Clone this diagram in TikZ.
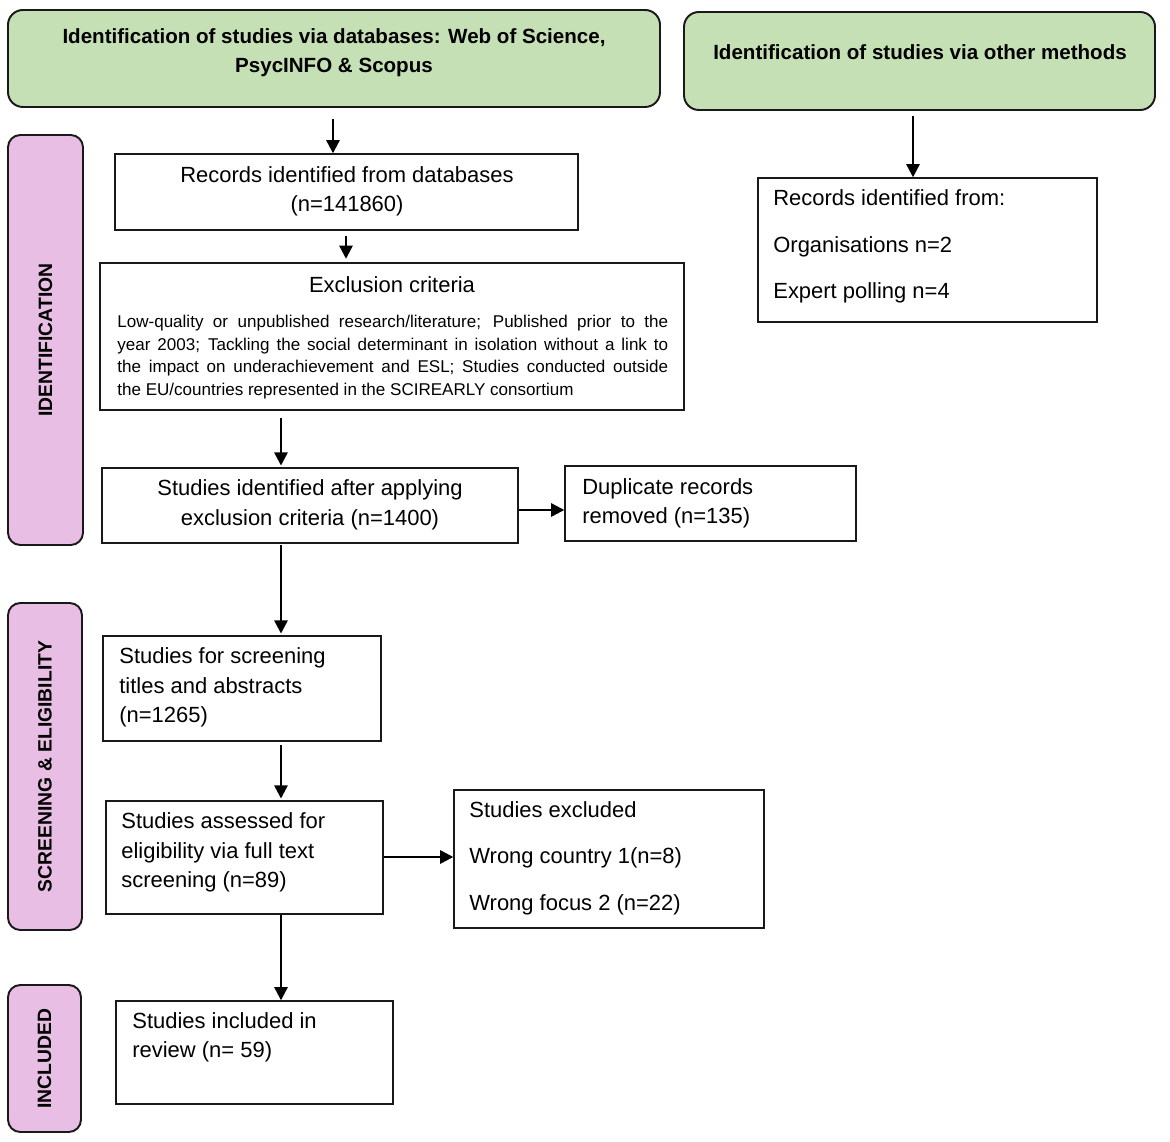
\documentclass[tikz,border=0pt]{standalone}
\usepackage{fontspec}
\setmainfont{Liberation Sans}
\usetikzlibrary{arrows.meta,fit}
\definecolor{hdrgreen}{RGB}{197,224,180}
\definecolor{phasepink}{RGB}{233,190,229}
\definecolor{edge}{RGB}{25,25,25}
\begin{document}
\begin{tikzpicture}[x=0.02cm,y=-0.02cm,
  box/.style={draw=edge, line width=0.8pt, inner sep=0pt},
  hdr/.style={draw=edge, fill=hdrgreen, rounded corners=8.5pt, line width=1.1pt, inner sep=0pt},
  phase/.style={draw=edge, fill=phasepink, rounded corners=7pt, line width=1.1pt, inner sep=0pt},
  flow/.style={-{Triangle[length=7.5pt,width=7.5pt]}, line width=1.3pt},
  hdrtext/.style={font=\bfseries\fontsize{11.7}{16.4}\selectfont, align=center, inner sep=0pt},
  phasetext/.style={font=\bfseries\fontsize{11}{13}\selectfont, inner sep=0pt, rotate=90},
  txt/.style={font=\fontsize{12.5}{16.8}\selectfont, inner sep=0pt},
  ltxt/.style={txt, anchor=west, align=left},
  wtxt/.style={font=\fontsize{12.5}{26.5}\selectfont, inner sep=0pt, anchor=west, align=left},
  smalltxt/.style={font=\fontsize{9.7}{12.9}\selectfont, inner sep=0pt, anchor=west, align=left}]
\useasboundingbox (0,0) rectangle (1170,1142);
\coordinate (colx) at (281,0);

% headers
\node[hdr, fit={(8,10) (660,107)}] (g1) {};
\node[hdrtext] (g1t) at (334,52.5) {Identification of studies via databases: Web of Science,\\PsycINFO \& Scopus};
\node[hdr, fit={(684,12) (1155,110)}] (g2) {};
\node[hdrtext] (g2t) at (920,52) {Identification of studies via other methods};

% phase labels
\node[phase, fit={(8,135) (83,545)}] (p1) {};
\node[phasetext] (p1t) at (p1.center) {IDENTIFICATION};
\node[phase, fit={(8,603) (82,930)}] (p2) {};
\node[phasetext] (p2t) at (p2.center) {SCREENING \& ELIGIBILITY};
\node[phase, fit={(8,985) (81,1132)}] (p3) {};
\node[phasetext] (p3t) at (p3.center) {INCLUDED};

% boxes
\node[box, fit={(115,154) (578,230)}] (rec) {};
\node[txt, align=center] (rect) at (347,191.5) {Records identified from databases\\(n=141860)};

\node[box, fit={(100,263) (684,410)}] (excl) {};
\node[txt] (exclt) at (392,285) {Exclusion criteria};
\node[smalltxt] (exclb) at (117,357) {%
\makebox[11.02cm][s]{Low-quality or unpublished research/literature; Published prior to the}\\
\makebox[11.02cm][s]{year 2003; Tackling the social determinant in isolation without a link to}\\
\makebox[11.02cm][s]{the impact on underachievement and ESL; Studies conducted outside}\\
the EU/countries represented in the SCIREARLY consortium};

\node[box, fit={(102,468) (518,543)}] (ident) {};
\node[txt, align=center] (identt) at (310,505) {Studies identified after applying\\exclusion criteria (n=1400)};

\node[box, fit={(565,466) (856,541)}] (dup) {};
\node[ltxt] (dupt) at (582,503.5) {Duplicate records\\removed (n=135)};

\node[box, fit={(103,636) (381,741)}] (scr) {};
\node[ltxt] (scrt) at (119,687.5) {Studies for screening\\titles and abstracts\\(n=1265)};

\node[box, fit={(106,801) (383,914)}] (ass) {};
\node[ltxt] (asst) at (121,852.5) {Studies assessed for\\eligibility via full text\\screening (n=89)};

\node[box, fit={(454,790) (764,928)}] (exc) {};
\node[wtxt] (exct) at (469,858) {Studies excluded\\Wrong country 1(n=8)\\Wrong focus 2 (n=22)};

\node[box, fit={(116,1001) (393,1104)}] (inc) {};
\node[ltxt] (inct) at (132,1037.5) {Studies included in\\review (n= 59)};

\node[box, fit={(758,178) (1097,322)}] (rf) {};
\node[wtxt] (rft) at (773,246.5) {Records identified from:\\Organisations n=2\\Expert polling n=4};

% connectors
\draw[flow, shorten <=6pt] (g1.south -| 333,0) -- (rec.north -| 333,0);
\draw[flow, shorten <=3pt, shorten >=2pt] (rec.south -| 346,0) -- (excl.north -| 346,0);
\draw[flow, shorten <=4pt, shorten >=1pt] (excl.south -| colx) -- (ident.north -| colx);
\draw[flow] (ident.east |- 0,510) -- (dup.west |- 0,510);
\draw[flow, shorten <=1pt, shorten >=1pt] (ident.south -| colx) -- (scr.north -| colx);
\draw[flow, shorten <=2pt, shorten >=1pt] (scr.south -| colx) -- (ass.north -| colx);
\draw[flow] (ass.east |- 0,857) -- (exc.west |- 0,857);
\draw[flow] (ass.south -| colx) -- (inc.north -| colx);
\draw[flow, shorten <=3pt] (g2.south -| 913,0) -- (rf.north -| 913,0);
\end{tikzpicture}
\end{document}
